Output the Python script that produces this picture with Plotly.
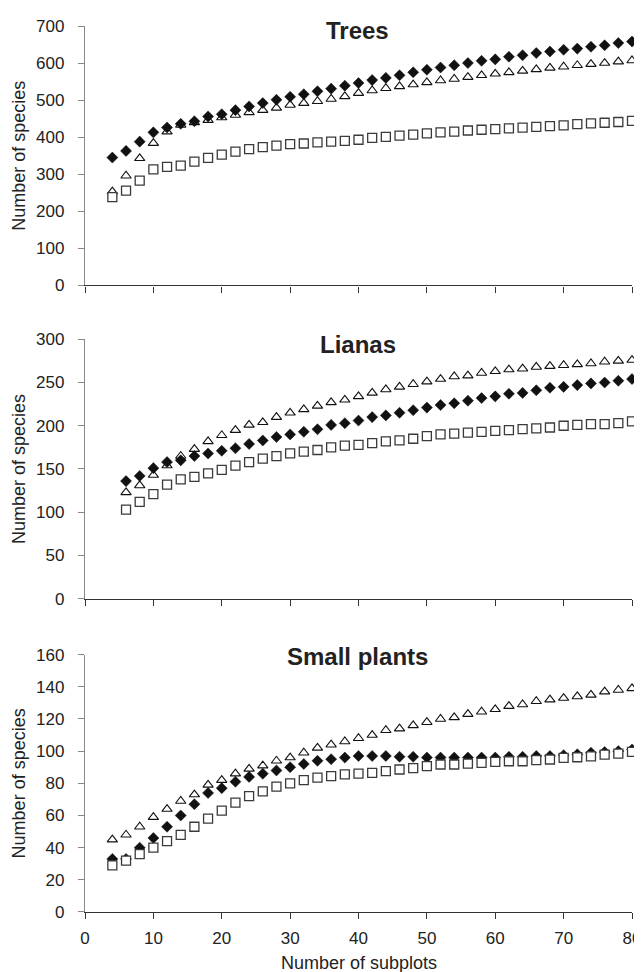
import plotly.graph_objects as go

# ---------------- data ----------------
x_trees = list(range(4, 81, 2))
x_lianas = list(range(6, 81, 2))
x_small = list(range(4, 81, 2))

trees_diamond = [345, 363, 388, 413, 426, 436, 443, 456, 462, 473, 483, 492, 501, 509, 516, 524, 531, 539, 546,
                 554, 560, 567, 575, 582, 588, 594, 600, 606, 610, 617, 621, 627, 631, 636, 639, 644, 648, 654, 658]
trees_triangle = [253, 296, 343, 384, 415, 433, 440, 446, 453, 460, 467, 473, 479, 487, 492, 497, 503, 510, 519,
                  526, 532, 537, 542, 548, 553, 557, 562, 567, 571, 575, 579, 583, 587, 590, 594, 597, 600, 604, 607]
trees_square = [238, 256, 283, 313, 320, 323, 334, 344, 353, 361, 368, 373, 377, 381, 383, 386, 388, 390, 393,
                398, 401, 404, 407, 410, 413, 415, 418, 420, 422, 424, 426, 428, 430, 432, 435, 437, 439, 441, 444]

lianas_diamond = [136, 142, 151, 158, 160, 165, 168, 171, 174, 179, 183, 187, 190, 193, 196, 201, 203, 206,
                  210, 212, 215, 218, 221, 224, 226, 229, 232, 234, 237, 238, 241, 244, 245, 247, 249, 250, 252, 254]
lianas_triangle = [123, 131, 143, 154, 165, 173, 182, 189, 195, 201, 204, 210, 215, 219, 223, 227, 230, 234,
                   238, 242, 245, 248, 251, 254, 257, 258, 261, 263, 265, 266, 268, 269, 270, 271, 272, 274, 275, 276]
lianas_square = [103, 112, 121, 132, 138, 141, 145, 149, 154, 158, 162, 165, 168, 170, 172, 175, 177, 178,
                 180, 182, 183, 185, 188, 190, 191, 192, 193, 194, 195, 196, 197, 198, 200, 201, 202, 202, 203, 205]

small_diamond = [33, 33, 40, 46, 53, 60, 67, 74, 77, 81, 84, 86, 88, 90, 92, 94, 95, 96, 97,
                 97, 97, 96.5, 96.5, 96, 96, 96, 96, 96, 96, 96.5, 96.5, 97, 97, 97.5, 98, 99, 99.5, 100, 101]
small_triangle = [45, 48, 53, 59, 64, 69, 73, 79, 82, 86, 89, 91, 94, 96, 99, 102, 104, 106, 108,
                  110, 113, 114, 116, 118, 120, 121, 123, 124.5, 126, 128, 129, 131, 132, 133, 134, 135, 137, 138, 139]
small_square = [29, 32, 36, 40, 44, 48, 53, 58, 63, 68, 72, 75, 78, 80, 82, 83.5, 84.5, 85.5, 86,
                86.5, 87.6, 88.6, 89.4, 90.7, 91.7, 91.7, 92.3, 92.7, 93.3, 93.7, 93.7, 94.4, 94.8, 95.8, 96.2,
                96.8, 97.8, 98.5, 99.5]

panel_titles = ["Trees", "Lianas", "Small plants"]
y_ranges = [700, 300, 160]
y_dticks = [100, 50, 20]
x_tick_vals = [0, 10, 20, 30, 40, 50, 60, 70, 80]
y_title = "Number of species"
x_title = "Number of subplots"

# ---------------- figure ----------------
FONT = "Liberation Sans, Arial, Helvetica, sans-serif"
TXT = "#222222"

fig = go.Figure()

panels = [
    (x_trees, trees_diamond, trees_triangle, trees_square),
    (x_lianas, lianas_diamond, lianas_triangle, lianas_square),
    (x_small, small_diamond, small_triangle, small_square),
]

for i, (xs, dia, tri, sq) in enumerate(panels):
    xa = "x" if i == 0 else f"x{i+1}"
    ya = "y" if i == 0 else f"y{i+1}"
    fig.add_trace(go.Scatter(x=xs, y=tri, mode="markers", xaxis=xa, yaxis=ya, cliponaxis=False,
                             marker=dict(symbol="triangle-up", size=9, color="white",
                                         line=dict(color="#111111", width=1.1)),
                             showlegend=False))
    fig.add_trace(go.Scatter(x=xs, y=dia, mode="markers", xaxis=xa, yaxis=ya, cliponaxis=False,
                             marker=dict(symbol="diamond", size=8.5, color="#111111",
                                         line=dict(color="#111111", width=0.5)),
                             showlegend=False))
    fig.add_trace(go.Scatter(x=xs, y=sq, mode="markers", xaxis=xa, yaxis=ya, cliponaxis=False,
                             marker=dict(symbol="square", size=9, color="white",
                                         line=dict(color="#3a3a3a", width=1.3)),
                             showlegend=False))

# pixel geometry: plot area x 77..633 (556 px), y 16..904 (888 px)
PW = 556
domains = [[0.7072, 1.0], [0.3536, 0.6464], [0.0, 0.2905]]

layout = dict(
    width=642, height=972,
    margin=dict(l=77, r=9, t=16, b=68),
    paper_bgcolor="white", plot_bgcolor="white",
    font=dict(family=FONT, size=17, color=TXT),
    showlegend=False,
)

for i in range(3):
    xk = "xaxis" if i == 0 else f"xaxis{i+1}"
    yk = "yaxis" if i == 0 else f"yaxis{i+1}"
    ya = "y" if i == 0 else f"y{i+1}"
    xa = "x" if i == 0 else f"x{i+1}"
    layout[xk] = dict(
        domain=[0, 1], anchor=ya, range=[0, 80], tickmode="array", tickvals=x_tick_vals,
        ticks="outside", ticklen=6, tickcolor="#333333", tickwidth=1,
        showline=True, linecolor="#333333", linewidth=1.3,
        showgrid=False, zeroline=False, showticklabels=(i == 2),
        ticklabeloverflow="allow",
        tickfont=dict(family=FONT, size=17, color=TXT), ticklabelstandoff=4,
    )
    layout[yk] = dict(
        domain=domains[i], anchor=xa, range=[0, y_ranges[i]], dtick=y_dticks[i], tick0=0,
        ticks="outside", ticklen=6, tickcolor="#888888", tickwidth=1,
        showline=True, linecolor="#888888", linewidth=1.3,
        showgrid=False, zeroline=False,
        tickfont=dict(family=FONT, size=17, color=TXT), ticklabelstandoff=10,
    )

fig.update_layout(**layout)

# panel titles (centred at pixel x ~354)
title_y_px = [21, 335, 648]
for t, py in zip(panel_titles, title_y_px):
    fig.add_annotation(text=f"<b>{t}</b>", x=(354 - 77) / PW, y=(904 - py) / 888, xref="paper", yref="paper",
                       xanchor="center", yanchor="middle", showarrow=False,
                       font=dict(family=FONT, size=24, color=TXT))

# y axis titles
for d in domains:
    fig.add_annotation(text=y_title, textangle=-90, x=(10 - 77) / PW, y=(d[0] + d[1]) / 2,
                       xref="paper", yref="paper", xanchor="center", yanchor="middle",
                       showarrow=False, font=dict(family=FONT, size=18, color=TXT))

# x axis title
fig.add_annotation(text=x_title, x=(356 - 77) / PW, y=(904 - 955) / 888, xref="paper", yref="paper",
                   xanchor="center", yanchor="middle", showarrow=False,
                   font=dict(family=FONT, size=18, color=TXT))

fig.write_html("out.html")
